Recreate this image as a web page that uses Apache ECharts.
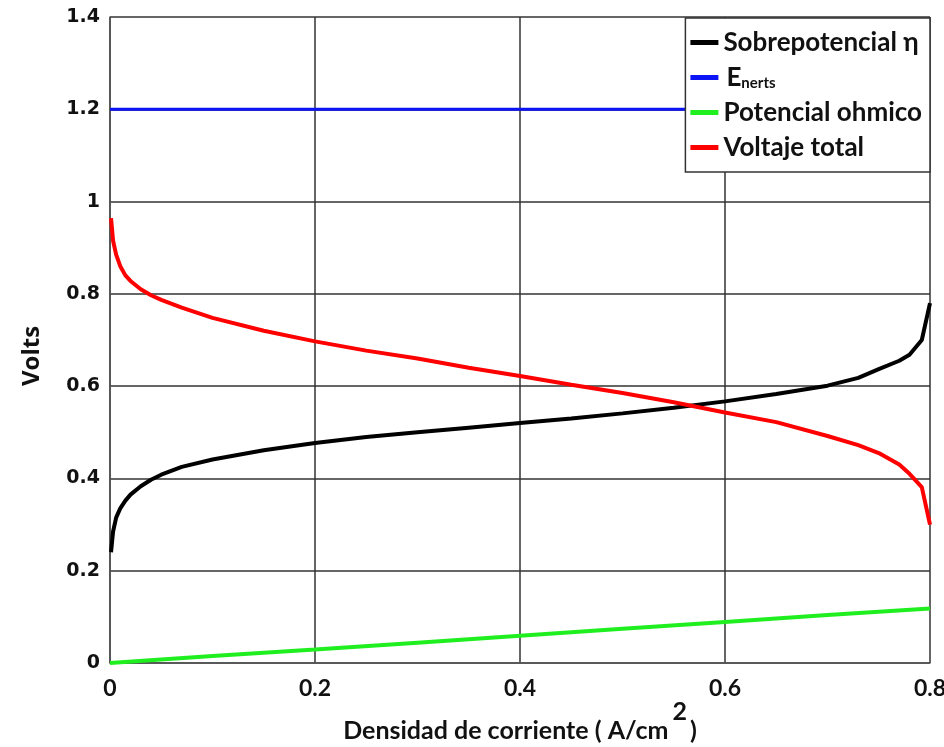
<!DOCTYPE html>
<html>
<head>
<meta charset="utf-8">
<script src="https://cdn.jsdelivr.net/npm/echarts@6/dist/echarts.min.js"></script>
<style>html,body{margin:0;padding:0;background:#fff;}#c{width:944px;height:747px;}</style>
</head>
<body>
<div id="c"></div>
<script>
// ---- data ----
const xTicks = [0, 0.2, 0.4, 0.6, 0.8];
const yTicks = [0, 0.2, 0.4, 0.6, 0.8, 1, 1.2, 1.4];

const curveX = [0.001,0.003,0.006,0.01,0.015,0.02,0.03,0.04,0.05,0.07,0.1,0.15,0.2,0.25,0.3,0.35,0.4,0.45,0.5,0.55,0.6,0.65,0.7,0.73,0.75,0.77,0.78,0.792,0.8];
const sobrepotencial = [0.24,0.285,0.315,0.335,0.352,0.365,0.383,0.397,0.408,0.425,0.441,0.461,0.477,0.49,0.5,0.51,0.52,0.53,0.541,0.553,0.567,0.583,0.601,0.618,0.637,0.655,0.668,0.70,0.78];
const voltajeTotal = [0.964,0.915,0.885,0.86,0.84,0.828,0.81,0.797,0.787,0.77,0.748,0.72,0.697,0.677,0.66,0.64,0.622,0.603,0.585,0.565,0.543,0.522,0.492,0.472,0.455,0.43,0.41,0.381,0.30];

const enertsX = [0, 0.8];
const enerts = [1.2, 1.2];

const ohmX = [0, 0.1, 0.2, 0.3, 0.4, 0.5, 0.6, 0.7, 0.8];
const ohmico = [0, 0.015, 0.029, 0.044, 0.059, 0.074, 0.089, 0.104, 0.118];

const names = ['Sobrepotencial η', 'Enerts', 'Potencial ohmico', 'Voltaje total'];

function pairs(xs, ys) { return xs.map((x, i) => [x, ys[i]]); }

const chart = echarts.init(document.getElementById('c'), null, {renderer: 'canvas'});
const lato = '"Lato", sans-serif';

chart.setOption({
  animation: false,
  backgroundColor: '#fff',
  grid: {left: 110, right: 14, top: 17, bottom: 84, containLabel: false, outerBoundsMode: 'none'},
  xAxis: {
    type: 'value', min: 0, max: 0.8, interval: 0.2,
    axisLine: {show: true, lineStyle: {color: '#555', width: 1.5}},
    axisTick: {show: false},
    splitLine: {show: true, lineStyle: {color: '#333', width: 1.5}},
    axisLabel: {
      margin: 14, color: '#111', fontFamily: lato, fontWeight: 'bold', fontSize: 23,
      formatter: v => String(Math.round(v * 10) / 10)
    },
    name: '{a|Densidad de corriente ( A/cm}{s|2}{a|)}',
    nameLocation: 'middle', nameGap: 36, nameMoveOverlap: false,
    nameTextStyle: {
      rich: {
        a: {fontFamily: lato, fontWeight: 'bold', fontSize: 25, color: '#111', lineHeight: 44, verticalAlign: 'bottom'},
        s: {fontFamily: lato, fontWeight: 'bold', fontSize: 25, color: '#111', lineHeight: 44, verticalAlign: 'top', padding: [0, 3, 0, 4]}
      }
    }
  },
  yAxis: {
    type: 'value', min: 0, max: 1.4, interval: 0.2,
    axisLine: {show: true, lineStyle: {color: '#555', width: 1.5}},
    axisTick: {show: false},
    splitLine: {show: true, lineStyle: {color: '#333', width: 1.5}},
    axisLabel: {
      margin: 10, color: '#111', fontFamily: '"DejaVu Sans", sans-serif', fontWeight: 'bold', fontSize: 19,
      formatter: v => String(Math.round(v * 10) / 10)
    }
  },
  graphic: [{
    type: 'text', x: 32, y: 356, rotation: Math.PI / 2,
    style: {text: 'Volts', fontFamily: '"Open Sans", sans-serif', fontWeight: 'bold', fontSize: 24, fill: '#111', align: 'center', verticalAlign: 'middle'}
  }],
  legend: {
    data: names,
    orient: 'vertical', right: 14, top: 18,
    backgroundColor: '#fff', borderColor: '#333', borderWidth: 1.5, borderRadius: 0,
    padding: [11, 8, 11, 5], itemGap: 8,
    itemWidth: 28, itemHeight: 5, icon: 'rect',
    textStyle: {
      fontFamily: lato, fontWeight: 'bold', fontSize: 26, color: '#111', lineHeight: 27,
      rich: {
        e: {fontFamily: lato, fontWeight: 'bold', fontSize: 26, color: '#111', padding: [0, 0, 0, 3]},
        s: {fontFamily: lato, fontWeight: 'bold', fontSize: 15, color: '#111', verticalAlign: 'bottom', padding: [9, 0, 0, 0]}
      }
    },
    formatter: n => n === 'Enerts' ? '{e|E}{s|nerts}' : n
  },
  series: [
    {name: names[0], type: 'line', data: pairs(curveX, sobrepotencial), showSymbol: false, lineStyle: {color: '#000', width: 4}, itemStyle: {color: '#000'}, z: 3},
    {name: names[1], type: 'line', data: pairs(enertsX, enerts), showSymbol: false, lineStyle: {color: '#0a14f5', width: 3}, itemStyle: {color: '#0a14f5'}, z: 3},
    {name: names[2], type: 'line', data: pairs(ohmX, ohmico), showSymbol: false, lineStyle: {color: '#1fee1f', width: 4}, itemStyle: {color: '#1fee1f'}, z: 3},
    {name: names[3], type: 'line', data: pairs(curveX, voltajeTotal), showSymbol: false, lineStyle: {color: '#ff0000', width: 4}, itemStyle: {color: '#ff0000'}, z: 3}
  ]
});
</script>
</body>
</html>
